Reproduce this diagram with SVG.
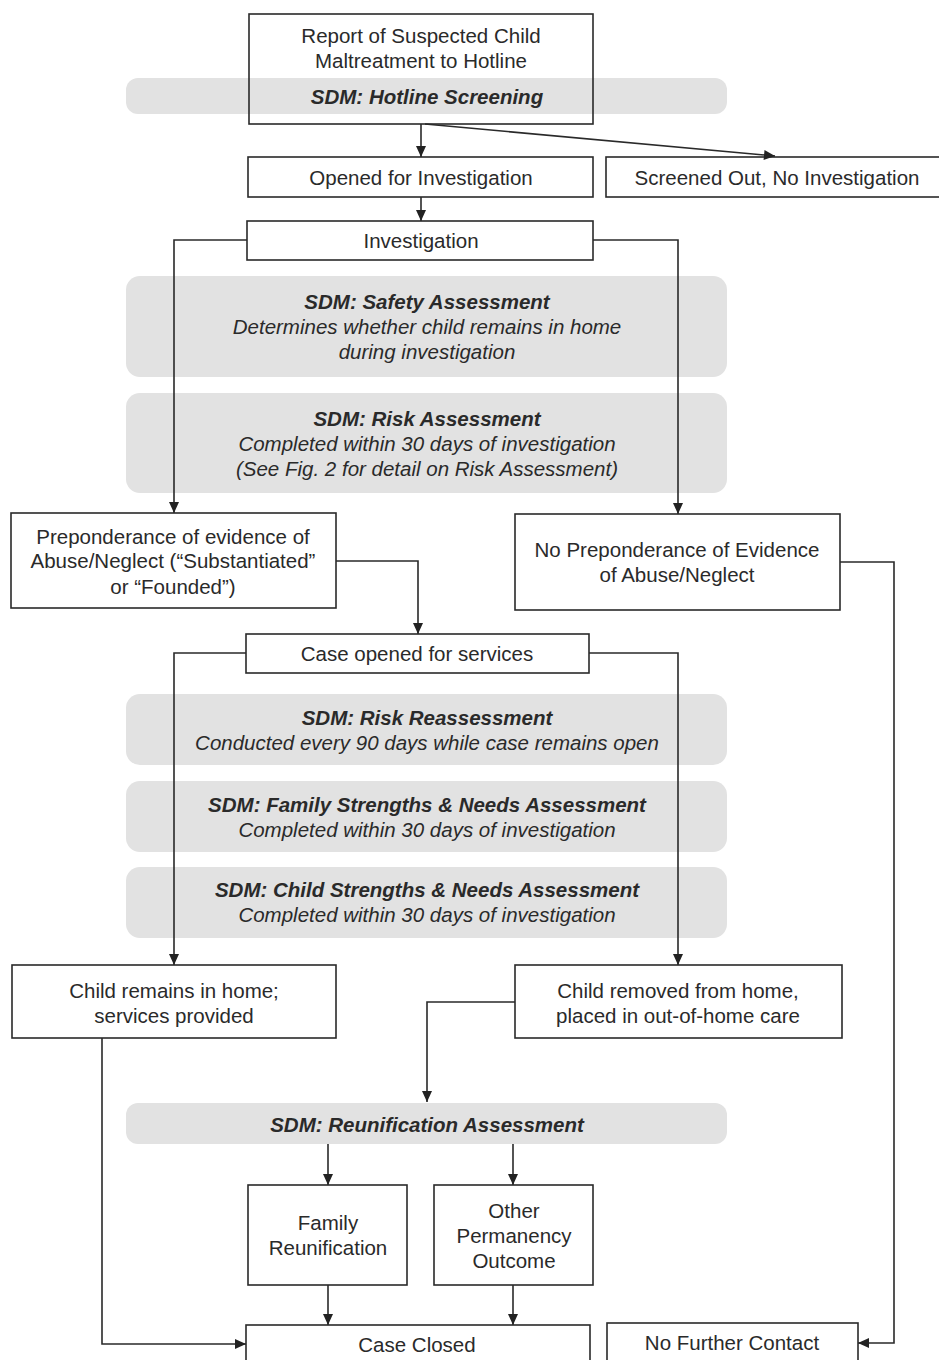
<svg xmlns="http://www.w3.org/2000/svg" width="939" height="1360" viewBox="0 0 939 1360">
<defs>
<marker id="ah" markerWidth="13" markerHeight="13" refX="12" refY="6.5" orient="auto" markerUnits="userSpaceOnUse">
<path d="M1,1.5 L12,6.5 L1,11.5 Z" fill="#222"/>
</marker>
<style>
.box{fill:#fff;stroke:#2a2a2a;stroke-width:1.6}
.ovl{fill:none;stroke:#2a2a2a;stroke-width:1.6}
.band{fill:#e2e2e2}
.t{font-family:"Liberation Sans",Arial,sans-serif;font-size:20.5px;fill:#2a2a2a;text-anchor:middle}
.b{font-weight:bold;font-style:italic}
.i{font-style:italic}
.c{fill:none;stroke:#2a2a2a;stroke-width:1.6}
</style>
</defs>
<rect width="939" height="1360" fill="#fff"/>

<g id="band-hotline">
<rect class="band" x="126" y="78" width="601" height="36" rx="12"/>
</g>
<g id="report">
<rect class="ovl" x="249" y="14" width="344" height="110"/>
<text class="t" x="421" y="43">Report of Suspected Child</text>
<text class="t" x="421" y="68">Maltreatment to Hotline</text>
<text class="t b" x="427" y="104">SDM: Hotline Screening</text>
</g>
<g id="opened">
<rect class="box" x="248" y="157" width="345" height="40"/>
<text class="t" x="421" y="185">Opened for Investigation</text>
</g>
<g id="screened">
<rect class="box" x="606" y="157" width="340" height="40"/>
<text class="t" x="777" y="185">Screened Out, No Investigation</text>
</g>
<g id="investigation">
<rect class="box" x="247" y="221" width="346" height="39"/>
<text class="t" x="421" y="248">Investigation</text>
</g>
<g id="band-safety">
<rect class="band" x="126" y="276" width="601" height="101" rx="14"/>
<text class="t b" x="427" y="309">SDM: Safety Assessment</text>
<text class="t i" x="427" y="334">Determines whether child remains in home</text>
<text class="t i" x="427" y="359">during investigation</text>
</g>
<g id="band-risk">
<rect class="band" x="126" y="393" width="601" height="100" rx="14"/>
<text class="t b" x="427" y="426">SDM: Risk Assessment</text>
<text class="t i" x="427" y="451">Completed within 30 days of investigation</text>
<text class="t i" x="427" y="476">(See Fig. 2 for detail on Risk Assessment)</text>
</g>
<g id="band-reassess">
<rect class="band" x="126" y="694" width="601" height="71" rx="14"/>
<text class="t b" x="427" y="725">SDM: Risk Reassessment</text>
<text class="t i" x="427" y="750">Conducted every 90 days while case remains open</text>
</g>
<g id="band-family">
<rect class="band" x="126" y="781" width="601" height="71" rx="14"/>
<text class="t b" x="427" y="812">SDM: Family Strengths &amp; Needs Assessment</text>
<text class="t i" x="427" y="837">Completed within 30 days of investigation</text>
</g>
<g id="band-child">
<rect class="band" x="126" y="867" width="601" height="71" rx="14"/>
<text class="t b" x="427" y="897">SDM: Child Strengths &amp; Needs Assessment</text>
<text class="t i" x="427" y="922">Completed within 30 days of investigation</text>
</g>
<g id="band-reunif">
<rect class="band" x="126" y="1103" width="601" height="41" rx="12"/>
<text class="t b" x="427" y="1132">SDM: Reunification Assessment</text>
</g>

<g id="connectors">
<line class="c" x1="421" y1="124" x2="421" y2="157" marker-end="url(#ah)"/>
<line class="c" x1="425" y1="124" x2="775" y2="156" marker-end="url(#ah)"/>
<line class="c" x1="421" y1="197" x2="421" y2="221" marker-end="url(#ah)"/>
<polyline class="c" points="247,240 174,240 174,513" marker-end="url(#ah)"/>
<polyline class="c" points="593,240 678,240 678,514" marker-end="url(#ah)"/>
<polyline class="c" points="336,561 418,561 418,634" marker-end="url(#ah)"/>
<polyline class="c" points="840,562 894,562 894,1343 858,1343" marker-end="url(#ah)"/>
<polyline class="c" points="246,653 174,653 174,965" marker-end="url(#ah)"/>
<polyline class="c" points="589,653 678,653 678,965" marker-end="url(#ah)"/>
<polyline class="c" points="515,1002 427,1002 427,1102" marker-end="url(#ah)"/>
<line class="c" x1="328" y1="1144" x2="328" y2="1185" marker-end="url(#ah)"/>
<line class="c" x1="513" y1="1144" x2="513" y2="1185" marker-end="url(#ah)"/>
<line class="c" x1="328" y1="1285" x2="328" y2="1325" marker-end="url(#ah)"/>
<line class="c" x1="513" y1="1285" x2="513" y2="1325" marker-end="url(#ah)"/>
<polyline class="c" points="102,1038 102,1344 246,1344" marker-end="url(#ah)"/>
</g>

<g id="preponderance">
<rect class="box" x="11" y="513" width="325" height="95"/>
<text class="t" x="173" y="544">Preponderance of evidence of</text>
<text class="t" x="173" y="568">Abuse/Neglect (“Substantiated”</text>
<text class="t" x="173" y="594">or “Founded”)</text>
</g>
<g id="no-preponderance">
<rect class="box" x="515" y="514" width="325" height="96"/>
<text class="t" x="677" y="557">No Preponderance of Evidence</text>
<text class="t" x="677" y="582">of Abuse/Neglect</text>
</g>
<g id="case-opened">
<rect class="box" x="246" y="634" width="343" height="39"/>
<text class="t" x="417" y="661">Case opened for services</text>
</g>
<g id="child-remains">
<rect class="box" x="12" y="965" width="324" height="73"/>
<text class="t" x="174" y="998">Child remains in home;</text>
<text class="t" x="174" y="1023">services provided</text>
</g>
<g id="child-removed">
<rect class="box" x="515" y="965" width="327" height="73"/>
<text class="t" x="678" y="998">Child removed from home,</text>
<text class="t" x="678" y="1023">placed in out-of-home care</text>
</g>
<g id="family-reunification">
<rect class="box" x="248" y="1185" width="159" height="100"/>
<text class="t" x="328" y="1230">Family</text>
<text class="t" x="328" y="1255">Reunification</text>
</g>
<g id="other-permanency">
<rect class="box" x="434" y="1185" width="159" height="100"/>
<text class="t" x="514" y="1218">Other</text>
<text class="t" x="514" y="1243">Permanency</text>
<text class="t" x="514" y="1268">Outcome</text>
</g>
<g id="case-closed">
<rect class="box" x="246" y="1325" width="344" height="45"/>
<text class="t" x="417" y="1352">Case Closed</text>
</g>
<g id="no-further">
<rect class="box" x="607" y="1323" width="251" height="47"/>
<text class="t" x="732" y="1350">No Further Contact</text>
</g>
</svg>
